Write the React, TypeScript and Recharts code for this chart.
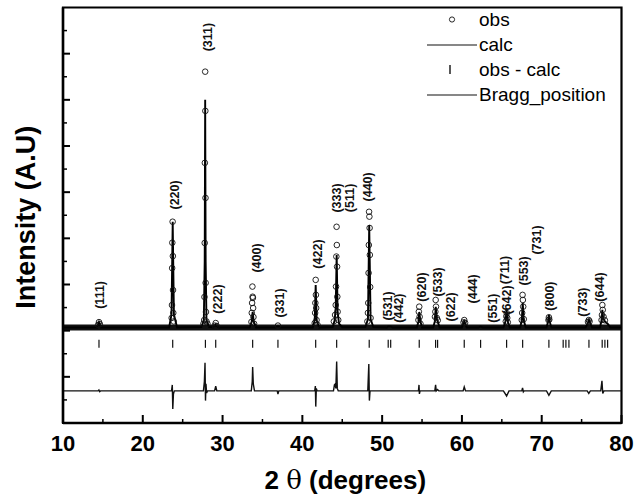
import React from 'react';
import { ComposedChart, Line, Scatter, XAxis, YAxis, Legend, ReferenceArea } from 'recharts';

const FONT = '"Liberation Sans", Arial, Helvetica, sans-serif';

// axis ticks
const xTicks = [10, 20, 30, 40, 50, 60, 70, 80];
const xMinorTicks = [15, 25, 35, 45, 55, 65, 75];
const yMajorTicks = [200, 400, 600, 800, 1000, 1200, 1400, 1600];
const yMinorTicks = [100, 300, 500, 700, 900, 1100, 1300, 1500, 1700];

// offsets of the stacked curves (intensity units)
const BRAGG_LEVEL = 343;

// observed background level (dense band of obs points)
const obsBackground = [
  { x: 10, y: 414 },
  { x: 80, y: 414 },
];

// calculated profile
const calc = [
  { x: 10, y: 414 }, { x: 14.3, y: 414 }, { x: 14.51, y: 437 }, { x: 14.75, y: 414 },
  { x: 23.3, y: 414 }, { x: 23.6, y: 470 }, { x: 23.75, y: 872 }, { x: 23.9, y: 470 }, { x: 24.3, y: 414 },
  { x: 27.35, y: 416 }, { x: 27.65, y: 445 }, { x: 27.76, y: 700 }, { x: 27.82, y: 1400 }, { x: 27.88, y: 700 }, { x: 27.98, y: 445 }, { x: 28.3, y: 416 },
  { x: 28.9, y: 414 }, { x: 29.14, y: 425 }, { x: 29.4, y: 414 },
  { x: 33.4, y: 414 }, { x: 33.65, y: 440 }, { x: 33.77, y: 482 }, { x: 33.9, y: 440 }, { x: 34.2, y: 414 },
  { x: 36.7, y: 414 }, { x: 36.94, y: 420 }, { x: 37.2, y: 414 },
  { x: 41.3, y: 414 }, { x: 41.55, y: 445 }, { x: 41.67, y: 598 }, { x: 41.8, y: 445 }, { x: 42.1, y: 414 },
  { x: 43.8, y: 416 }, { x: 44.05, y: 445 }, { x: 44.18, y: 500 }, { x: 44.3, y: 728 }, { x: 44.42, y: 480 }, { x: 44.6, y: 430 }, { x: 45.0, y: 415 },
  { x: 47.9, y: 416 }, { x: 48.22, y: 450 }, { x: 48.38, y: 858 }, { x: 48.55, y: 450 }, { x: 48.9, y: 416 },
  { x: 50.6, y: 414 }, { x: 50.76, y: 418 }, { x: 51.07, y: 418 }, { x: 51.3, y: 414 },
  { x: 54.35, y: 414 }, { x: 54.55, y: 440 }, { x: 54.65, y: 481 }, { x: 54.8, y: 440 }, { x: 55.0, y: 414 },
  { x: 56.4, y: 414 }, { x: 56.6, y: 440 }, { x: 56.72, y: 503 }, { x: 56.85, y: 450 }, { x: 56.97, y: 440 }, { x: 57.2, y: 414 },
  { x: 60.0, y: 414 }, { x: 60.29, y: 440 }, { x: 60.6, y: 414 },
  { x: 62.1, y: 414 }, { x: 62.34, y: 418 }, { x: 62.6, y: 414 },
  { x: 65.2, y: 414 }, { x: 65.45, y: 440 }, { x: 65.6, y: 492 }, { x: 65.75, y: 440 }, { x: 66.0, y: 414 },
  { x: 67.3, y: 414 }, { x: 67.5, y: 445 }, { x: 67.62, y: 520 }, { x: 67.75, y: 445 }, { x: 68.0, y: 414 },
  { x: 70.6, y: 414 }, { x: 70.8, y: 440 }, { x: 70.9, y: 468 }, { x: 71.0, y: 440 }, { x: 71.2, y: 414 },
  { x: 75.5, y: 414 }, { x: 75.8, y: 435 }, { x: 75.92, y: 446 }, { x: 76.05, y: 435 }, { x: 76.3, y: 414 },
  { x: 77.3, y: 414 }, { x: 77.5, y: 445 }, { x: 77.6, y: 490 }, { x: 77.7, y: 455 }, { x: 77.92, y: 440 }, { x: 78.26, y: 430 }, { x: 78.6, y: 414 },
  { x: 80, y: 414 },
];

// observed points
const obs = [
  { x: 14.4, y: 425 }, { x: 14.51, y: 437 }, { x: 14.62, y: 428 },
  { x: 23.62, y: 455 }, { x: 23.66, y: 511 }, { x: 23.68, y: 671 }, { x: 23.7, y: 781 }, { x: 23.74, y: 872 },
  { x: 23.77, y: 723 }, { x: 23.79, y: 576 }, { x: 23.82, y: 477 }, { x: 23.88, y: 440 },
  { x: 27.6, y: 430 }, { x: 27.7, y: 446 }, { x: 27.73, y: 546 }, { x: 27.76, y: 780 }, { x: 27.78, y: 1127 },
  { x: 27.82, y: 1522 }, { x: 27.84, y: 1352 }, { x: 27.86, y: 975 }, { x: 27.88, y: 607 }, { x: 27.92, y: 481 },
  { x: 27.98, y: 440 }, { x: 28.1, y: 430 },
  { x: 29.02, y: 422 }, { x: 29.14, y: 433 }, { x: 29.26, y: 420 },
  { x: 33.62, y: 438 }, { x: 33.66, y: 477 }, { x: 33.7, y: 520 }, { x: 33.74, y: 591 }, { x: 33.77, y: 547 },
  { x: 33.8, y: 542 }, { x: 33.83, y: 498 }, { x: 33.87, y: 459 }, { x: 33.95, y: 430 },
  { x: 36.94, y: 422 },
  { x: 41.55, y: 433 }, { x: 41.6, y: 477 }, { x: 41.63, y: 520 }, { x: 41.67, y: 620 }, { x: 41.7, y: 555 },
  { x: 41.73, y: 498 }, { x: 41.78, y: 446 }, { x: 41.9, y: 425 },
  { x: 43.95, y: 440 }, { x: 44.1, y: 468 }, { x: 44.18, y: 511 }, { x: 44.22, y: 591 }, { x: 44.26, y: 721 },
  { x: 44.29, y: 850 }, { x: 44.32, y: 771 }, { x: 44.35, y: 677 }, { x: 44.38, y: 547 }, { x: 44.42, y: 482 },
  { x: 44.5, y: 446 },
  { x: 48.15, y: 440 }, { x: 48.22, y: 477 }, { x: 48.26, y: 520 }, { x: 48.3, y: 650 }, { x: 48.33, y: 771 },
  { x: 48.36, y: 915 }, { x: 48.4, y: 894 }, { x: 48.43, y: 845 }, { x: 48.46, y: 728 }, { x: 48.5, y: 589 },
  { x: 48.55, y: 455 },
  { x: 54.55, y: 446 }, { x: 54.6, y: 482 }, { x: 54.65, y: 504 }, { x: 54.7, y: 460 }, { x: 54.8, y: 430 },
  { x: 56.62, y: 460 }, { x: 56.67, y: 482 }, { x: 56.71, y: 533 }, { x: 56.75, y: 504 }, { x: 56.85, y: 455 },
  { x: 56.97, y: 445 },
  { x: 60.2, y: 436 }, { x: 60.29, y: 446 }, { x: 60.4, y: 434 },
  { x: 65.5, y: 440 }, { x: 65.56, y: 462 }, { x: 65.62, y: 476 }, { x: 65.68, y: 455 }, { x: 65.75, y: 436 },
  { x: 67.5, y: 446 }, { x: 67.55, y: 477 }, { x: 67.6, y: 555 }, { x: 67.64, y: 533 }, { x: 67.68, y: 504 },
  { x: 67.75, y: 450 },
  { x: 70.85, y: 446 }, { x: 70.9, y: 458 }, { x: 70.95, y: 448 },
  { x: 75.8, y: 438 }, { x: 75.9, y: 446 }, { x: 76.0, y: 440 },
  { x: 77.5, y: 446 }, { x: 77.55, y: 468 }, { x: 77.6, y: 511 }, { x: 77.65, y: 490 }, { x: 77.75, y: 460 },
  { x: 77.92, y: 445 },
];

// difference curve (obs - calc), drawn around its offset
const diff = [
  { x: 10, y: 139 }, { x: 14.4, y: 139 }, { x: 14.5, y: 143 }, { x: 14.6, y: 136 }, { x: 14.7, y: 139 },
  { x: 23.6, y: 139 }, { x: 23.7, y: 165 }, { x: 23.76, y: 61 }, { x: 23.84, y: 125 }, { x: 23.95, y: 139 },
  { x: 27.6, y: 139 }, { x: 27.72, y: 180 }, { x: 27.8, y: 261 }, { x: 27.86, y: 97 }, { x: 27.92, y: 170 }, { x: 28.0, y: 130 }, { x: 28.1, y: 139 },
  { x: 29.0, y: 139 }, { x: 29.14, y: 160 }, { x: 29.28, y: 139 },
  { x: 33.6, y: 139 }, { x: 33.72, y: 180 }, { x: 33.77, y: 243 }, { x: 33.85, y: 170 }, { x: 34.0, y: 139 },
  { x: 36.85, y: 139 }, { x: 36.94, y: 125 }, { x: 37.05, y: 139 },
  { x: 41.55, y: 139 }, { x: 41.63, y: 160 }, { x: 41.68, y: 71 }, { x: 41.75, y: 150 }, { x: 41.85, y: 139 },
  { x: 43.9, y: 139 }, { x: 44.02, y: 165 }, { x: 44.1, y: 168 }, { x: 44.2, y: 150 }, { x: 44.3, y: 266 }, { x: 44.38, y: 150 }, { x: 44.5, y: 139 },
  { x: 48.2, y: 139 }, { x: 48.33, y: 256 }, { x: 48.4, y: 97 }, { x: 48.48, y: 139 },
  { x: 54.55, y: 139 }, { x: 54.62, y: 165 }, { x: 54.67, y: 126 }, { x: 54.75, y: 139 },
  { x: 56.6, y: 139 }, { x: 56.7, y: 165 }, { x: 56.78, y: 139 }, { x: 56.95, y: 145 }, { x: 57.1, y: 139 },
  { x: 60.15, y: 139 }, { x: 60.29, y: 156 }, { x: 60.45, y: 139 },
  { x: 65.2, y: 139 }, { x: 65.6, y: 117 }, { x: 65.9, y: 139 },
  { x: 67.5, y: 139 }, { x: 67.6, y: 152 }, { x: 67.7, y: 135 }, { x: 67.8, y: 139 },
  { x: 70.6, y: 139 }, { x: 70.9, y: 120 }, { x: 71.2, y: 139 },
  { x: 75.7, y: 139 }, { x: 75.9, y: 128 }, { x: 76.1, y: 139 },
  { x: 77.4, y: 139 }, { x: 77.55, y: 183 }, { x: 77.65, y: 128 }, { x: 77.8, y: 139 }, { x: 80, y: 139 },
];

// Bragg reflection positions (2 theta)
const braggPositions = [
  14.51, 23.75, 27.85, 29.14, 33.77, 36.94, 41.67, 44.3, 48.38, 50.76, 51.07, 54.65, 56.7, 56.95,
  60.29, 62.34, 65.6, 67.61, 70.9, 72.69, 73.03, 73.41, 75.92, 77.58, 77.92, 78.26,
];

// Miller index annotations (2 theta, intensity of label centre)
const hklLabels = [
  { label: '(111)', x: 14.64, y: 555 },
  { label: '(220)', x: 24.04, y: 988 },
  { label: '(311)', x: 28.17, y: 1672 },
  { label: '(222)', x: 29.42, y: 537 },
  { label: '(400)', x: 34.31, y: 715 },
  { label: '(331)', x: 37.19, y: 520 },
  { label: '(422)', x: 41.95, y: 732 },
  { label: '(333)', x: 44.34, y: 975 },
  { label: '(511)', x: 45.97, y: 975 },
  { label: '(440)', x: 48.22, y: 1023 },
  { label: '(531)', x: 50.73, y: 507 },
  { label: '(442)', x: 52.11, y: 498 },
  { label: '(620)', x: 54.99, y: 589 },
  { label: '(533)', x: 56.99, y: 611 },
  { label: '(622)', x: 58.62, y: 503 },
  { label: '(444)', x: 61.38, y: 581 },
  { label: '(551)', x: 63.88, y: 498 },
  { label: '(711)', x: 65.39, y: 663 },
  { label: '(642)', x: 65.64, y: 533 },
  { label: '(553)', x: 67.77, y: 659 },
  { label: '(731)', x: 69.4, y: 793 },
  { label: '(800)', x: 71.03, y: 550 },
  { label: '(733)', x: 75.16, y: 524 },
  { label: '(644)', x: 77.29, y: 589 },
];

const legendItems = [
  { name: 'obs', symbol: 'circle' },
  { name: 'calc', symbol: 'line' },
  { name: 'obs - calc', symbol: 'bar' },
  { name: 'Bragg_position', symbol: 'line' },
];

const braggData = braggPositions.map((x) => ({ x, y: BRAGG_LEVEL }));
const allXTicks = [...xTicks, ...xMinorTicks].sort((a, b) => a - b);
const allYTicks = [...yMajorTicks, ...yMinorTicks].sort((a, b) => a - b);

const XTick = (p: any) => {
  const v = p.payload.value;
  const major = xTicks.includes(v);
  return (
    <g>
      <line x1={p.x} x2={p.x} y1={p.y} y2={p.y - (major ? 8 : 4)} stroke="#000" strokeWidth={major ? 2 : 1.5} />
      {major && (
        <text x={p.x} y={p.y + 28} textAnchor="middle" fontFamily={FONT} fontWeight="bold" fontSize={22} fill="#000">
          {v}
        </text>
      )}
    </g>
  );
};

const YTick = (p: any) => {
  const v = p.payload.value;
  const major = yMajorTicks.includes(v);
  return (
    <line x1={p.x} x2={p.x + (major ? 7 : 4)} y1={p.y} y2={p.y} stroke="#000" strokeWidth={major ? 2 : 1.5} />
  );
};

const ObsCircle = (p: any) => (
  <circle cx={p.cx} cy={p.cy} r={2.8} fill="none" stroke="#111" strokeWidth={0.9} />
);

const BraggTick = (p: any) => (
  <line x1={p.cx} x2={p.cx} y1={p.cy - 4} y2={p.cy + 4} stroke="#111" strokeWidth={1.2} />
);

const HklText = (p: any) => (
  <text
    x={p.cx}
    y={p.cy}
    transform={`rotate(-90 ${p.cx} ${p.cy})`}
    textAnchor="middle"
    dominantBaseline="central"
    fontFamily={FONT}
    fontWeight="bold"
    fontSize={12.5}
    fill="#111"
  >
    {p.payload.label}
  </text>
);

const LegendBox = () => (
  <div style={{ fontFamily: FONT, fontSize: 19, color: '#000' }}>
    {legendItems.map((it) => (
      <div key={it.name} style={{ display: 'flex', alignItems: 'center', height: 25 }}>
        <svg width={52} height={25} style={{ flex: 'none' }}>
          {it.symbol === 'circle' && <circle cx={25} cy={12.5} r={2.6} fill="none" stroke="#111" strokeWidth={0.9} />}
          {it.symbol === 'line' && <line x1={0} x2={50} y1={13} y2={13} stroke="#111" strokeWidth={1.2} />}
          {it.symbol === 'bar' && <line x1={23} x2={23} y1={8} y2={17} stroke="#111" strokeWidth={1.4} />}
        </svg>
        <span style={{ whiteSpace: 'nowrap' }}>{it.name}</span>
      </div>
    ))}
  </div>
);

const YTitle = (props: any) => {
  const vb = props.viewBox || { x: 0, y: 0, width: 63, height: 415 };
  const cx = vb.x + 26;
  const cy = vb.y + vb.height / 2 + 2;
  return (
    <text
      x={cx}
      y={cy}
      transform={`rotate(-90 ${cx} ${cy})`}
      textAnchor="middle"
      dominantBaseline="central"
      fontFamily={FONT}
      fontWeight="bold"
      fontSize={27}
      fill="#000"
    >
      Intensity (A.U)
    </text>
  );
};

const XTitle = (props: any) => {
  const vb = props.viewBox || { x: 63, y: 423, width: 558, height: 79 };
  return (
    <text
      x={vb.x + vb.width / 2 + 3}
      y={vb.y + 66}
      textAnchor="middle"
      fontFamily={FONT}
      fontWeight="bold"
      fontSize={26}
      fill="#000"
    >
      2 <tspan fontWeight="normal" fontFamily='"DejaVu Serif", serif'>θ</tspan> (degrees)
    </text>
  );
};

export default function App() {
  return (
    <div style={{ position: 'absolute', left: 0, top: 0, background: '#fff' }}>
      <ComposedChart width={635} height={502} margin={{ top: 7.5, right: 13.5, bottom: 0, left: 0 }}>
        <XAxis
          dataKey="x"
          type="number"
          domain={[10, 80]}
          ticks={allXTicks}
          interval={0}
          allowDataOverflow
          height={79}
          tickLine={false}
          tickSize={0}
          tickMargin={0}
          axisLine={{ stroke: '#000', strokeWidth: 2.5 }}
          tick={XTick}
          label={{ content: XTitle }}
        />
        <YAxis
          dataKey="y"
          type="number"
          domain={[0, 1800]}
          ticks={allYTicks}
          interval={0}
          allowDataOverflow
          width={63}
          tickLine={false}
          tickSize={0}
          tickMargin={0}
          tick={YTick}
          axisLine={{ stroke: '#000', strokeWidth: 2.5 }}
          label={{ content: YTitle }}
        />

        <ReferenceArea x1={10} x2={80} y1={0} y2={1800} fill="none" stroke="#000" strokeWidth={2.2}
          ifOverflow="visible" />

        <Legend
          layout="vertical"
          align="center"
          verticalAlign="middle"
          content={() => <LegendBox />}
          wrapperStyle={{ position: 'absolute', top: 7, left: 427, width: 205 }}
        />

        <Line data={obsBackground} dataKey="y" type="linear" dot={false} stroke="#111" strokeWidth={6}
          isAnimationActive={false} legendType="none" />
        <Line data={calc} dataKey="y" name="calc" type="linear" dot={false} stroke="#000" strokeWidth={1.9}
          isAnimationActive={false} />
        <Scatter data={obs} dataKey="y" name="obs" shape={ObsCircle} isAnimationActive={false} />
        <Line data={diff} dataKey="y" name="obs - calc" type="linear" dot={false} stroke="#111" strokeWidth={1.4}
          isAnimationActive={false} />
        <Scatter data={braggData} dataKey="y" name="Bragg_position" shape={BraggTick} isAnimationActive={false} />
        <Scatter data={hklLabels} dataKey="y" name="hkl" shape={HklText} isAnimationActive={false} legendType="none" />
      </ComposedChart>
    </div>
  );
}
